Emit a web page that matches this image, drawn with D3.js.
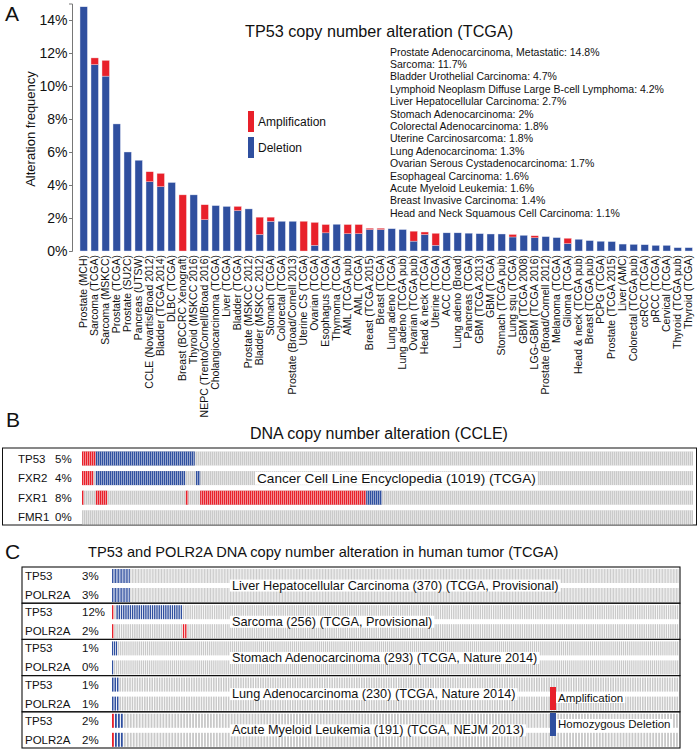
<!DOCTYPE html>
<html><head><meta charset="utf-8">
<script src="https://cdn.jsdelivr.net/npm/d3@7"></script>
<style>
body{margin:0;background:#fff;}
text{font-family:"Liberation Sans",Arial,sans-serif;fill:#111;}
</style>
</head><body>
<svg id="c" width="699" height="750"></svg>
<script>
// ---------- Panel A data ----------
const categories = ["Prostate (MCH)","Sarcoma (TCGA)","Sarcoma (MSKCC)","Prostate (TCGA)","Prostate (SU2C)","Pancreas (UTSW)","CCLE (Novartis/Broad 2012)","Bladder (TCGA 2014)","DLBC (TCGA)","Breast (BCCRC Xenograft)","Thyroid (MSKCC 2016)","NEPC (Trento/Cornell/Broad 2016)","Cholangiocarcinoma (TCGA)","Liver (TCGA)","Bladder (TCGA)","Prostate (MSKCC 2012)","Bladder (MSKCC 2012)","Stomach (TCGA)","Colorectal (TCGA)","Prostate (Broad/Cornell 2013)","Uterine CS (TCGA)","Ovarian (TCGA)","Esophagus (TCGA)","Thymoma (TCGA)","AML (TCGA pub)","AML (TCGA)","Breast (TCGA 2015)","Breast (TCGA)","Lung adeno (TCGA)","Lung adeno (TCGA pub)","Ovarian (TCGA pub)","Head & neck (TCGA)","Uterine (TCGA)","ACC (TCGA)","Lung adeno (Broad)","Pancreas (TCGA)","GBM (TCGA 2013)","GBM (TCGA)","Stomach (TCGA pub)","Lung squ (TCGA)","GBM (TCGA 2008)","LGG-GBM (TCGA 2016)","Prostate (Broad/Cornell 2012)","Melanoma (TCGA)","Glioma (TCGA)","Head & neck (TCGA pub)","Breast (TCGA pub)","PCPG (TCGA)","Prostate (TCGA 2015)","Liver (AMC)","Colorectal (TCGA pub)","ccRCC (TCGA)","pRCC (TCGA)","Cervical (TCGA)","Thyroid (TCGA pub)","Thyroid (TCGA)"];
const deletion = [14.8,11.3,10.6,7.7,6.0,5.5,4.2,3.9,4.15,0,3.4,1.9,2.75,2.7,2.45,2.55,1.0,1.8,1.8,1.8,0,0.35,1.1,1.62,1.05,1.05,1.3,1.3,1.35,1.3,0.6,1.0,0.35,1.1,1.1,1.08,1.05,1.03,1.03,0.85,0.95,0.8,0.87,0.81,0.45,0.71,0.63,0.59,0.57,0.42,0.4,0.38,0.34,0.34,0.2,0.2];
const amplification = [0,0.4,0.95,0,0,0,0.6,0.8,0,3.4,0,0.9,0,0,0.25,0,1.05,0.25,0,0,1.8,1.38,0.5,0,0.55,0.55,0.08,0.08,0,0,0.6,0.15,0.72,0,0,0,0,0,0,0.15,0,0.12,0,0,0.32,0,0,0,0,0,0,0,0,0,0,0];
const yTicks = [0,2,4,6,8,10,12,14];
const notes = ["Prostate Adenocarcinoma, Metastatic: 14.8%","Sarcoma: 11.7%","Bladder Urothelial Carcinoma: 4.7%","Lymphoid Neoplasm Diffuse Large B-cell Lymphoma: 4.2%","Liver Hepatocellular Carcinoma: 2.7%","Stomach Adenocarcinoma: 2%","Colorectal Adenocarcinoma: 1.8%","Uterine Carcinosarcoma: 1.8%","Lung Adenocarcinoma: 1.3%","Ovarian Serous Cystadenocarcinoma: 1.7%","Esophageal Carcinoma: 1.6%","Acute Myeloid Leukemia: 1.6%","Breast Invasive Carcinoma: 1.4%","Head and Neck Squamous Cell Carcinoma: 1.1%"];

// ---------- Panel B data ----------
const ccleGenes = ["TP53","FXR2","FXR1","FMR1"];
const cclePct = ["5%","4%","8%","0%"];
const ccleSamples = 1019;
const ccleAmp = [[[0,23]],[[0,19]],[[0,3],[23,42],[173,177],[197,474]],[]];
const ccleDel = [[[23,188]],[[23,172],[190,197]],[[474,500]],[]];

// ---------- Panel C data ----------
const studies = ["Liver Hepatocellular Carcinoma (370) (TCGA, Provisional)","Sarcoma (256) (TCGA, Provisional)","Stomach Adenocarcinoma (293) (TCGA, Nature 2014)","Lung Adenocarcinoma (230) (TCGA, Nature 2014)","Acute Myeloid Leukemia (191) (TCGA, NEJM 2013)"];
const studySize = [370,256,293,230,191];
const studyGenes = ["TP53","POLR2A"];
const studyPct = [["3%","3%"],["12%","2%"],["1%","0%"],["1%","1%"],["2%","2%"]];
const studyAmp = [[[],[]],[[[0,1]],[[0,1],[32,34]]],[[],[]],[[],[]],[[[0,1]],[[0,1]]]];
const studyDel = [[[[0,12]],[[0,12]]],[[[2,32]],[]],[[[0,3]],[[0,1]]],[[[0,3]],[[0,3]]],[[[1,4]],[[1,4]]]];

const RED = "#e8202a", BLUE = "#2f4f9f", GRAY = "#c9c9c9";
const svg = d3.select("#c");
const defs = svg.append("defs");
const pat = defs.append("pattern").attr("id","stripes").attr("patternUnits","userSpaceOnUse")
  .attr("width",2).attr("height",20);
pat.append("rect").attr("x",1.35).attr("y",0).attr("width",0.65).attr("height",20).attr("fill","#fff").attr("opacity",0.75);

// ================= Panel A =================
const x = d3.scaleBand().domain(categories).range([78.2, 694.2]).paddingInner(0.33).paddingOuter(0.165);
const y = d3.scaleLinear().domain([0,15]).range([251,3.5]);

svg.append("text").attr("x",5).attr("y",21).attr("font-size",21).text("A");

const yAxis = svg.append("g").attr("transform","translate(72,0)")
  .call(d3.axisLeft(y).tickValues(yTicks).tickFormat(d=>d+"%").tickSize(3).tickPadding(1.5));
yAxis.select(".domain").attr("stroke","#777");
yAxis.selectAll(".tick line").attr("stroke","#777");
yAxis.selectAll(".tick text").attr("font-size",14).attr("fill","#222")
  .attr("font-family","'Liberation Sans',Arial,sans-serif");

svg.append("text").attr("transform","translate(35,129) rotate(-90)").attr("text-anchor","middle")
  .attr("font-size",13).text("Alteration frequency");

const bars = svg.append("g");
categories.forEach((c,i)=>{
  const d = deletion[i], a = amplification[i];
  if (d>0) bars.append("rect").attr("x",x(c)).attr("width",x.bandwidth())
    .attr("y",y(d)).attr("height",y(0)-y(d)).attr("fill",BLUE).attr("stroke","#dfe4f2").attr("stroke-width",0.4);
  if (a>0) bars.append("rect").attr("x",x(c)).attr("width",x.bandwidth())
    .attr("y",y(d+a)).attr("height",y(d)-y(d+a)).attr("fill",RED).attr("stroke","#f3d0d2").attr("stroke-width",0.4);
});

svg.append("g").selectAll("text").data(categories).join("text")
  .attr("transform",d=>`translate(${x(d)+x.bandwidth()/2},255) rotate(-90)`)
  .attr("dy","0.35em").attr("text-anchor","end").attr("font-size",10.5).text(d=>d);

svg.append("text").attr("x",245).attr("y",37).attr("font-size",16.2).text("TP53 copy number alteration (TCGA)");
svg.append("g").selectAll("text").data(notes).join("text")
  .attr("x",390).attr("y",(d,i)=>55.5+i*12.4).attr("font-size",10.5).text(d=>d);

// legend A
const legA = [["Amplification",RED],["Deletion",BLUE]];
legA.forEach(([t,col],i)=>{
  svg.append("rect").attr("x",248).attr("y",111+i*26).attr("width",6).attr("height",21).attr("fill",col);
  svg.append("text").attr("x",258).attr("y",122+i*26).attr("dy","0.35em").attr("font-size",12).text(t);
});

// ================= Panel B =================
svg.append("text").attr("x",6).attr("y",427).attr("font-size",21).text("B");
svg.append("text").attr("x",250).attr("y",439).attr("font-size",16).text("DNA copy number alteration (CCLE)");
const xb = d3.scaleLinear().domain([0,ccleSamples]).range([82,693]);
svg.append("rect").attr("x",2.5).attr("y",448).attr("width",694).attr("height",77)
  .attr("fill","none").attr("stroke","#111").attr("stroke-width",1);
ccleGenes.forEach((g,i)=>{
  const top = 451.5 + i*19.6, h = 14;
  const row = svg.append("g");
  row.append("rect").attr("x",xb(0)).attr("y",top).attr("width",xb(ccleSamples)-xb(0)).attr("height",h).attr("fill",GRAY);
  ccleAmp[i].forEach(s=>row.append("rect").attr("x",xb(s[0])).attr("y",top).attr("width",xb(s[1])-xb(s[0])).attr("height",h).attr("fill",RED));
  ccleDel[i].forEach(s=>row.append("rect").attr("x",xb(s[0])).attr("y",top).attr("width",xb(s[1])-xb(s[0])).attr("height",h).attr("fill",BLUE));
  row.append("rect").attr("x",xb(0)).attr("y",top).attr("width",xb(ccleSamples)-xb(0)).attr("height",h).attr("fill","url(#stripes)");
  svg.append("text").attr("x",18).attr("y",top+h/2).attr("dy","0.35em").attr("font-size",11.5).text(g);
  svg.append("text").attr("x",55).attr("y",top+h/2).attr("dy","0.35em").attr("font-size",11.5).text(cclePct[i]);
});
function labelWithBg(xp, yp, txt, fs){
  const g = svg.append("g");
  const bg = g.append("rect").attr("fill","#fff");
  const t = g.append("text").attr("x",xp).attr("y",yp).attr("dy","0.35em").attr("font-size",fs).text(txt);
  const bb = t.node().getBBox();
  bg.attr("x",bb.x-2).attr("y",bb.y+1).attr("width",bb.width+4).attr("height",bb.height-2);
}
labelWithBg(257, 478, "Cancer Cell Line Encyclopedia (1019) (TCGA)", 13.6);

// ================= Panel C =================
svg.append("text").attr("x",5).attr("y",559).attr("font-size",21).text("C");
svg.append("text").attr("x",88).attr("y",557).attr("font-size",14.6).text("TP53 and POLR2A DNA copy number alteration in human tumor (TCGA)");
const boxTop = 567, groupH = 36.2, trackX0 = 112, trackX1 = 679;
studies.forEach((s,gi)=>{
  const gT = boxTop + gi*groupH;
  const N = studySize[gi];
  const xs = d3.scaleLinear().domain([0,N]).range([trackX0,trackX1]);
  const step = xs(1)-xs(0);
  studyGenes.forEach((gene,ri)=>{
    const top = gT + 2 + ri*19, h = 14;
    const type = i=>{
      if (studyAmp[gi][ri].some(r=>i>=r[0]&&i<r[1])) return RED;
      if (studyDel[gi][ri].some(r=>i>=r[0]&&i<r[1])) return BLUE;
      return GRAY;
    };
    svg.append("g").selectAll("rect").data(d3.range(N)).join("rect")
      .attr("x",i=>xs(i)).attr("y",top).attr("width",step*0.62).attr("height",h)
      .attr("fill",i=>type(i));
    svg.append("text").attr("x",25).attr("y",top+h/2).attr("dy","0.35em").attr("font-size",11.5).text(gene);
    svg.append("text").attr("x",82).attr("y",top+h/2).attr("dy","0.35em").attr("font-size",11.5).text(studyPct[gi][ri]);
  });
  labelWithBg(232, gT+groupH/2, s, 12.7);
  svg.append("rect").attr("x",22).attr("y",gT).attr("width",trackX1+1-22).attr("height",groupH)
    .attr("fill","none").attr("stroke","#111").attr("stroke-width",1.1);
});
// legend C
[["Amplification",RED],["Homozygous Deletion",BLUE]].forEach(([t,col],i)=>{
  svg.append("rect").attr("x",550).attr("y",687+i*26).attr("width",6).attr("height",23).attr("fill",col);
  labelWithBg(558, 698+i*26, t, 11.5);
});
</script>
</body></html>
